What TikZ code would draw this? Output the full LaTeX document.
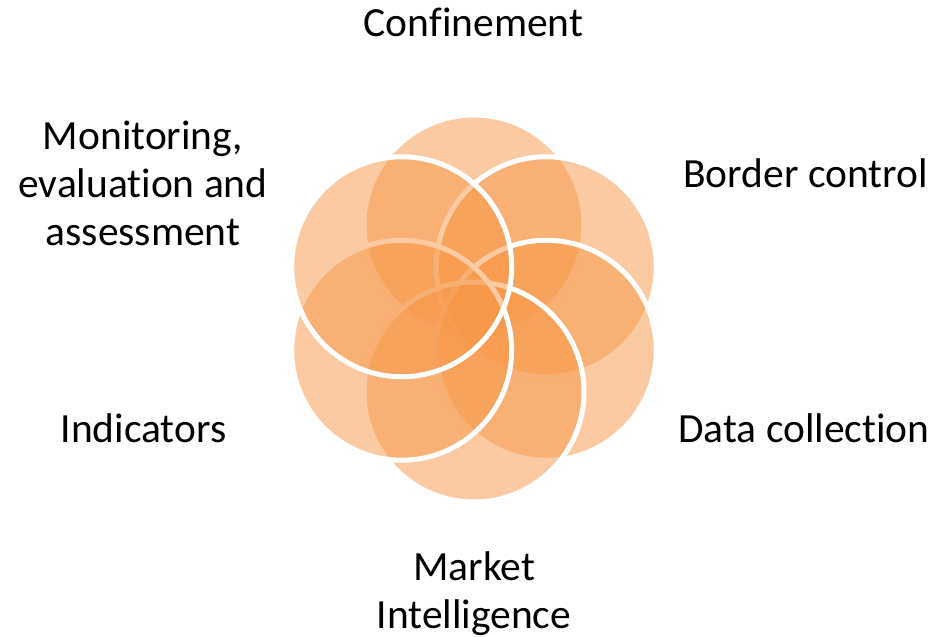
\documentclass[tikz,border=0pt]{standalone}
\usepackage{fontspec}
\setmainfont{Carlito}[Ligatures=NoCommon]
\definecolor{accorange}{HTML}{F79646}
\begin{document}
\begin{tikzpicture}[x=1pt,y=-1pt,
  petal/.style={circle, inner sep=0pt, minimum size=220pt, fill=accorange, fill opacity=0.5, draw=white, draw opacity=1, line width=5pt},
  lbl/.style={font=\fontsize{41.5}{48}\selectfont, anchor=base, align=center, inner sep=0pt, text=black}]
\useasboundingbox (0,0) rectangle (937,637);
% circles, in drawing order
\node[petal] (conf) at (474,225) {};
\node[petal] (bord) at (546.3,266.75) {};
\node[petal] (data) at (546.3,350.25) {};
\node[petal] (mark) at (474,392) {};
\node[petal] (ind)  at (401.7,350.25) {};
\node[petal] (mon)  at (401.7,266.75) {};
% labels (base anchor = baseline of the last line)
\node[lbl] (lconf) at (473.5,36) {Confinement};
\node[lbl] (lbord) at (805.5,187) {Border control};
\node[lbl] (ldata) at (804,442) {Data collection};
\node[lbl] (lmark) at (474,628) {Market\\Intelligence};
\node[lbl] (lind)  at (143.5,442) {Indicators};
\node[lbl] (lmon)  at (143,245) {Monitoring,\\evaluation and\\assessment};
\end{tikzpicture}
\end{document}
